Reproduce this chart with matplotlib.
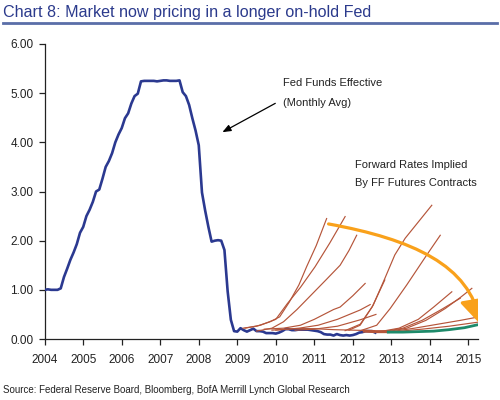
import matplotlib
matplotlib.use("Agg")
import matplotlib.pyplot as plt
from matplotlib.patches import FancyArrowPatch
from matplotlib.lines import Line2D
from matplotlib.path import Path

plt.rcParams['font.family'] = ['Liberation Sans', 'DejaVu Sans']

# ---- Fed funds effective, monthly average (Jan 2004 .. Aug 2012) ----
ff_start_year = 2004
ff_values = [
    1.00, 1.01, 1.00, 1.00, 1.00, 1.03, 1.26, 1.43, 1.61, 1.76, 1.93, 2.16,
    2.28, 2.50, 2.63, 2.79, 3.00, 3.04, 3.26, 3.50, 3.62, 3.78, 4.00, 4.16,
    4.29, 4.49, 4.59, 4.79, 4.94, 4.99, 5.24, 5.25, 5.25, 5.25, 5.25, 5.24,
    5.25, 5.26, 5.26, 5.25, 5.25, 5.25, 5.26, 5.02, 4.94, 4.76, 4.49, 4.24,
    3.94, 2.98, 2.61, 2.28, 1.98, 2.00, 2.01, 2.00, 1.81, 0.97, 0.39, 0.16,
    0.15, 0.22, 0.18, 0.15, 0.18, 0.21, 0.16, 0.16, 0.15, 0.12, 0.12, 0.12,
    0.11, 0.13, 0.16, 0.20, 0.20, 0.18, 0.18, 0.19, 0.19, 0.19, 0.19, 0.18,
    0.17, 0.16, 0.14, 0.10, 0.09, 0.09, 0.07, 0.10, 0.08, 0.07, 0.08, 0.07,
    0.08, 0.10, 0.13, 0.14, 0.16, 0.16, 0.16, 0.13,
]
ff_dates = [ff_start_year + i / 12 for i in range(len(ff_values))]

# ---- Forward curves implied by FF futures ----
fwd_curves = [
    ([2009.15, 2009.5, 2009.85, 2010.1, 2010.35, 2010.6, 2010.8, 2011.05, 2011.32],
     [0.22, 0.26, 0.35, 0.45, 0.75, 1.10, 1.47, 1.90, 2.45]),
    ([2009.2, 2009.6, 2010.0, 2010.3, 2010.64, 2011.02, 2011.4, 2011.8],
     [0.22, 0.28, 0.40, 0.72, 1.05, 1.47, 1.95, 2.49]),
    ([2009.5, 2009.9, 2010.2, 2010.55, 2010.9, 2011.3, 2011.67, 2011.9, 2012.1],
     [0.16, 0.22, 0.35, 0.60, 0.88, 1.20, 1.50, 1.80, 2.11]),
    ([2009.7, 2010.2, 2010.64, 2011.0, 2011.5, 2011.67, 2012.0, 2012.32],
     [0.20, 0.22, 0.28, 0.40, 0.60, 0.65, 0.88, 1.13]),
    ([2010.0, 2010.6, 2011.1, 2011.6, 2012.19, 2012.45],
     [0.18, 0.22, 0.28, 0.40, 0.59, 0.70]),
    ([2010.5, 2011.0, 2011.6, 2012.19, 2012.6],
     [0.18, 0.20, 0.26, 0.39, 0.50]),
    ([2009.9, 2010.5, 2011.0, 2011.5, 2012.0, 2012.5],
     [0.18, 0.21, 0.21, 0.19, 0.18, 0.17]),
    ([2011.8, 2012.19, 2012.5, 2012.83],
     [0.17, 0.30, 0.65, 1.20]),
    ([2011.9, 2012.19, 2012.53, 2012.83, 2013.09, 2013.36, 2013.7, 2014.05],
     [0.18, 0.28, 0.69, 1.23, 1.71, 2.05, 2.38, 2.72]),
    ([2012.2, 2012.62, 2012.97, 2013.4, 2013.92, 2014.27],
     [0.17, 0.28, 0.62, 1.10, 1.71, 2.11]),
    ([2012.9, 2013.4, 2013.9, 2014.4, 2014.8, 2015.09],
     [0.15, 0.22, 0.38, 0.62, 0.85, 1.03]),
    ([2012.7, 2013.2, 2013.7, 2014.1, 2014.57],
     [0.15, 0.22, 0.40, 0.65, 0.96]),
    ([2012.8, 2013.3, 2013.8, 2014.3, 2014.79],
     [0.15, 0.22, 0.38, 0.60, 0.83]),
    ([2013.0, 2013.6, 2014.2, 2014.8, 2015.27],
     [0.15, 0.22, 0.30, 0.38, 0.45]),
    ([2013.1, 2013.8, 2014.5, 2015.32],
     [0.15, 0.20, 0.26, 0.35]),
]
fwd_thick_x = [2012.3, 2012.6, 2012.92]
fwd_thick_y = [0.16, 0.15, 0.15]

latest_x = [2012.92, 2013.3, 2013.7, 2014.1, 2014.5, 2014.9, 2015.3]
latest_y = [0.14, 0.14, 0.15, 0.16, 0.19, 0.23, 0.30]

year_ticks = list(range(2004, 2016))
y_ticks = [0, 1, 2, 3, 4, 5, 6]

title = "Chart 8: Market now pricing in a longer on-hold Fed"
source = "Source: Federal Reserve Board, Bloomberg, BofA Merrill Lynch Global Research"

# ---- figure ----
fig = plt.figure(figsize=(5, 4), dpi=100)
ax = fig.add_axes([0.0894, 0.1525, 0.8666, 0.7375])

blue = '#2B3990'
brown = '#B5553A'
green = '#1E8A6A'
orange = '#F9A11B'

ax.plot(ff_dates, ff_values, color=blue, lw=1.9, zorder=3, solid_joinstyle='round')
for xs, ys in fwd_curves:
    ax.plot(xs, ys, color=brown, lw=0.85, zorder=4)
ax.plot(fwd_thick_x, fwd_thick_y, color=brown, lw=2.2, zorder=4)
ax.plot(latest_x, latest_y, color=green, lw=2.0, zorder=5)

ax.set_xlim(2004, 2015.25)
ax.set_ylim(0, 6)
ax.set_xticks(year_ticks)
ax.set_xticklabels([str(y) for y in year_ticks])
ax.set_yticks(y_ticks)
ax.set_yticklabels([f"{v:.2f}" for v in y_ticks])
for s in ['top', 'right']:
    ax.spines[s].set_visible(False)
for s in ['left', 'bottom']:
    ax.spines[s].set_color('#222222')
    ax.spines[s].set_linewidth(0.9)
ax.tick_params(axis='both', direction='out', length=4, width=0.9,
               colors='#222222', labelsize=8.5, labelcolor='#222222')
ax.tick_params(axis='x', pad=7)
ax.tick_params(axis='y', pad=4)

# annotations
ax.text(2010.2, 5.21, "Fed Funds Effective", fontsize=8, color='#222222', va='center', ha='left')
ax.text(2010.2, 4.81, "(Monthly Avg)", fontsize=8, color='#222222', va='center', ha='left')
ax.annotate("", xy=(2008.55, 4.18), xytext=(2010.05, 4.82),
            arrowprops=dict(arrowstyle='-|>,head_length=0.5,head_width=0.2',
                            color='black', lw=0.9))
ax.text(2012.06, 3.54, "Forward Rates Implied", fontsize=8, color='#222222', va='center', ha='left')
ax.text(2012.06, 3.18, "By FF Futures Contracts", fontsize=8, color='#222222', va='center', ha='left')

arc = Path([(2011.37, 2.34), (2013.54, 2.03), (2015.05, 1.50), (2015.31, 0.30)],
           [Path.MOVETO, Path.CURVE4, Path.CURVE4, Path.CURVE4])
arr = FancyArrowPatch(path=arc,
                      arrowstyle="-|>,head_length=0.9,head_width=0.6",
                      mutation_scale=17, color=orange, lw=2.3, zorder=6)
ax.add_patch(arr)

# title and underline
fig.text(0.006, 0.968, title, fontsize=11.6, color='#2B3A8C', ha='left', va='center')
fig.add_artist(Line2D([0.006, 0.994], [0.943, 0.943], color='#5A6EA8', lw=2,
                      transform=fig.transFigure))
fig.text(0.006, 0.025, source, fontsize=7, color='#222222', ha='left', va='center')

fig.savefig("out.png", dpi=100)
